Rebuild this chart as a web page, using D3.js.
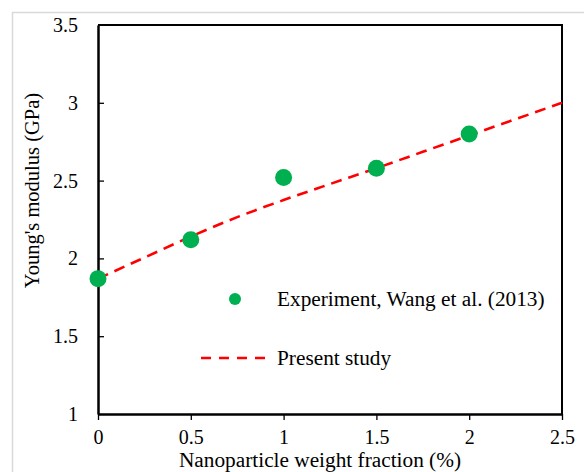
<!DOCTYPE html>
<html>
<head>
<meta charset="utf-8">
<script src="https://cdn.jsdelivr.net/npm/d3@7"></script>
<style>
  html, body { margin: 0; padding: 0; background: #fff; }
  svg { display: block; font-family: "Liberation Serif", "Times New Roman", serif; }
</style>
</head>
<body>
<svg id="chart" width="584" height="472"></svg>
<script>
// Experimental points (weight fraction %, modulus GPa)
const expFraction = [0, 0.5, 1, 1.5, 2];
const expModulus  = [1.87, 2.12, 2.52, 2.58, 2.80];

// Model prediction curve
const modelFraction = [0, 0.25, 0.5, 0.75, 1, 1.25, 1.5, 1.75, 2, 2.25, 2.5];
const modelModulus  = [1.87, 2.005, 2.14, 2.265, 2.375, 2.478, 2.58, 2.685, 2.79, 2.895, 3.0];

// Axis ticks
const xTicks = [0, 0.5, 1, 1.5, 2, 2.5];
const xTickLabels = ["0", "0.5", "1", "1.5", "2", "2.5"];
const yTicks = [1, 1.5, 2, 2.5, 3, 3.5];
const yTickLabels = ["1", "1.5", "2", "2.5", "3", "3.5"];

const legendLabels = ["Experiment, Wang et al. (2013)", "Present study"];

const svg = d3.select("#chart");
const plot = { left: 98, top: 25, right: 562, bottom: 414 };
const GREEN = "#00b050", RED = "#ff0000";
const TICK_FONT = 20, TITLE_FONT = 21.3, YTITLE_FONT = 20.5;

// Outer chart-area frame
svg.append("rect")
  .attr("x", 12.5).attr("y", 12.5)
  .attr("width", 600).attr("height", 500)
  .attr("fill", "none").attr("stroke", "#d9d9d9").attr("stroke-width", 1.5);

const x = d3.scaleLinear().domain([0, 2.5]).range([plot.left, plot.right]);
const y = d3.scaleLinear().domain([1, 3.5]).range([plot.bottom, plot.top]);

// Plot-area frame (top and right)
svg.append("path")
  .attr("d", `M${plot.left},${plot.top}H${plot.right}V${plot.bottom}`)
  .attr("fill", "none").attr("stroke", "#000").attr("stroke-width", 2);

// Axes
const xAxis = d3.axisBottom(x)
  .tickValues(xTicks)
  .tickFormat((d, i) => xTickLabels[i])
  .tickSizeInner(6).tickSizeOuter(0).tickPadding(10);
const yAxis = d3.axisLeft(y)
  .tickValues(yTicks)
  .tickFormat((d, i) => yTickLabels[i])
  .tickSizeInner(-6).tickSizeOuter(0).tickPadding(20);

const gx = svg.append("g").attr("transform", `translate(0,${plot.bottom})`).call(xAxis);
const gy = svg.append("g").attr("transform", `translate(${plot.left},0)`).call(yAxis);

[gx, gy].forEach(g => {
  g.select(".domain").attr("stroke", "#000").attr("stroke-width", 2.5);
  g.selectAll(".tick line").attr("stroke", "#000").attr("stroke-width", 1.3);
  g.selectAll(".tick text")
    .attr("fill", "#000")
    .style("font-family", "'Liberation Serif', 'Times New Roman', serif")
    .style("font-size", TICK_FONT + "px");
});
// the end ticks of the y axis coincide with the frame lines
gy.selectAll(".tick line").filter(d => d === 1 || d === 3.5).remove();

// Axis titles
svg.append("text")
  .attr("x", 320)
  .attr("y", 467)
  .attr("text-anchor", "middle")
  .style("font-size", TITLE_FONT + "px")
  .text("Nanoparticle weight fraction (%)");

svg.append("text")
  .attr("transform", `translate(39,${(plot.top + plot.bottom) / 2 - 29}) rotate(-90)`)
  .attr("text-anchor", "middle")
  .style("font-size", YTITLE_FONT + "px")
  .text("Young's modulus (GPa)");

// Model curve
const line = d3.line()
  .x((d, i) => x(modelFraction[i]))
  .y(d => y(d))
  .curve(d3.curveMonotoneX);

svg.append("path")
  .datum(modelModulus)
  .attr("d", line)
  .attr("fill", "none")
  .attr("stroke", RED)
  .attr("stroke-width", 2.6)
  .attr("stroke-dasharray", "11,7");

// Experimental markers
svg.append("g")
  .selectAll("circle")
  .data(expModulus)
  .join("circle")
  .attr("cx", (d, i) => x(expFraction[i]))
  .attr("cy", d => y(d))
  .attr("r", 8.5)
  .attr("fill", GREEN);

// Legend
const legend = svg.append("g");
legend.append("circle")
  .attr("cx", 235).attr("cy", 299).attr("r", 6).attr("fill", GREEN);
legend.append("text")
  .attr("x", 277).attr("y", 305.5)
  .style("font-size", TITLE_FONT + "px")
  .text(legendLabels[0]);
legend.append("line")
  .attr("x1", 201).attr("x2", 268).attr("y1", 358).attr("y2", 358)
  .attr("stroke", RED).attr("stroke-width", 2.6)
  .attr("stroke-dasharray", "10,8");
legend.append("text")
  .attr("x", 277).attr("y", 364.5)
  .style("font-size", TITLE_FONT + "px")
  .text(legendLabels[1]);
</script>
</body>
</html>
